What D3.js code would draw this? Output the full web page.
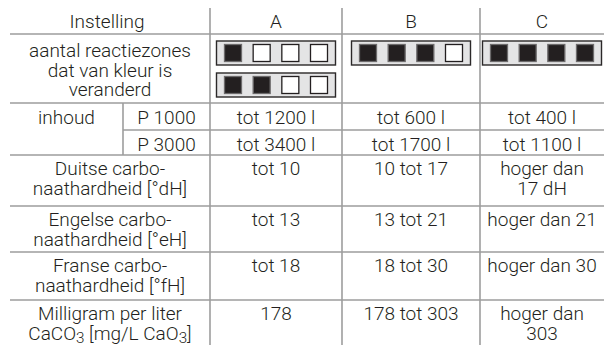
<!DOCTYPE html>
<html>
<head>
<meta charset="utf-8">
<script src="https://cdn.jsdelivr.net/npm/d3@7"></script>
<style>
  html, body { margin: 0; padding: 0; background: #fff; }
  svg { display: block; }
  text { font-family: Roboto, "Liberation Sans", sans-serif; font-weight: 300; fill: #231f20; }
</style>
</head>
<body>
<svg id="chart" width="604" height="345"></svg>
<script>
// ---- data ----
const headerLabel = "Instelling";
const columns = ["A", "B", "C"];
const zoneLabel = ["aantal reactiezones", "dat van kleur is", "veranderd"];
const zoneTotal = 4;
const zonesChanged = [[1, 2], [3], [4]];          // per column: strips with n zones coloured
const volumeLabel = "inhoud";
const volumeModels = ["P 1000", "P 3000"];
const volumeValues = [
  ["tot 1200 l", "tot 600 l", "tot 400 l"],
  ["tot 3400 l", "tot 1700 l", "tot 1100 l"]
];
const hardnessLabels = [
  ["Duitse carbo-", "naathardheid [°dH]"],
  ["Engelse carbo-", "naathardheid [°eH]"],
  ["Franse carbo-", "naathardheid [°fH]"],
  ["Milligram per liter", "CaCO_3 [mg/L CaO_3]"]
];
const hardnessValues = [
  [["tot 10"], ["10 tot 17"], ["hoger dan", "17 dH"]],
  [["tot 13"], ["13 tot 21"], ["hoger dan 21"]],
  [["tot 18"], ["18 tot 30"], ["hoger dan 30"]],
  [["178"], ["178 tot 303"], ["hoger dan", "303"]]
];

// ---- layout ----
const W = 604, H = 345;
const fs = 19;
const lineColor = "#9d9d9d", lineW = 1.6;
const labelLeft = 10, labelSplit = 123;
const colLeft = d3.scaleOrdinal().domain(columns).range([210, 342, 480]);
const colRight = d3.scaleOrdinal().domain(columns).range([342, 480, 604]);
const colMid = c => (colLeft(c) + colRight(c)) / 2;
const labelMid = (labelLeft + 210) / 2;

const rowTops = { header: 8, zones: 34, vol: [103, 130], hard: [155, 206, 252, 300], end: 345 };

const svg = d3.select("#chart");

// text helper with subscript support ("_3")
function addLines(g, lines, x, yTop, base, lh) {
  const t = g.append("text").attr("x", x).attr("text-anchor", "middle").attr("font-size", fs);
  lines.forEach((ln, i) => {
    const y = yTop + base + i * lh;
    const parts = ln.split(/(_\d)/);
    let first = true, prevSub = false;
    parts.forEach(p => {
      if (!p) return;
      const ts = t.append("tspan");
      if (first) { ts.attr("x", x).attr("y", y); first = false; }
      if (p.startsWith("_")) {
        ts.text(p.slice(1)).attr("font-size", fs * 0.8).attr("dy", 3);
        prevSub = true;
      } else {
        if (prevSub) ts.attr("dy", -3);
        prevSub = false;
        ts.text(p);
      }
    });
  });
}

// ---- grid lines ----
const hLines = [
  { y: rowTops.zones, x1: labelLeft },
  { y: rowTops.vol[0], x1: labelLeft },
  { y: rowTops.vol[1], x1: labelSplit },
  ...rowTops.hard.map(y => ({ y, x1: labelLeft }))
];
svg.append("g").selectAll("line").data(hLines).join("line")
  .attr("x1", d => d.x1).attr("x2", W).attr("y1", d => d.y).attr("y2", d => d.y)
  .attr("stroke", lineColor).attr("stroke-width", lineW);

const vLines = [
  ...columns.map(c => ({ x: colLeft(c), y1: rowTops.header, y2: H })),
  { x: labelSplit, y1: rowTops.vol[0], y2: rowTops.hard[0] }
];
svg.append("g").selectAll("line").data(vLines).join("line")
  .attr("x1", d => d.x).attr("x2", d => d.x).attr("y1", d => d.y1).attr("y2", d => d.y2)
  .attr("stroke", lineColor).attr("stroke-width", lineW);

const g = svg.append("g");

// ---- header ----
addLines(g, [headerLabel], labelMid - 3, 0, 28, 0);
columns.forEach(c => addLines(g, [c], colMid(c), 0, 28, 0));

// ---- zones row ----
addLines(g, zoneLabel, labelMid, rowTops.zones, 23, 19.5);
const stripW = 119, stripH = 24, sq = 17, pad = 8;
const sqX = d3.scalePoint().domain(d3.range(zoneTotal)).range([pad, stripW - pad - sq]);
columns.forEach((c, ci) => {
  zonesChanged[ci].forEach((n, si) => {
    const sx = colMid(c) - stripW / 2;
    const sy = rowTops.zones + 7 + si * 32;
    const strip = g.append("g").attr("transform", `translate(${sx},${sy})`);
    strip.append("rect").attr("x", 0).attr("y", 0).attr("width", stripW).attr("height", stripH)
      .attr("fill", "#e4e4e5").attr("stroke", "#2b2829").attr("stroke-width", 1.4);
    strip.selectAll("rect.sq").data(d3.range(zoneTotal)).join("rect").attr("class", "sq")
      .attr("x", i => sqX(i)).attr("y", (stripH - sq) / 2)
      .attr("width", sq).attr("height", sq)
      .attr("fill", i => i < n ? "#231f20" : "#ffffff")
      .attr("stroke", i => i < n ? "#6d6b6c" : "#231f20")
      .attr("stroke-width", 1.3);
  });
});

// ---- volume rows ----
addLines(g, [volumeLabel], (labelLeft + labelSplit) / 2, rowTops.vol[0], 21, 0);
volumeModels.forEach((m, ri) => {
  addLines(g, [m], (labelSplit + 210) / 2, rowTops.vol[ri], 21, 0);
  columns.forEach((c, ci) => addLines(g, [volumeValues[ri][ci]], colMid(c), rowTops.vol[ri], 21, 0));
});

// ---- hardness rows ----
hardnessLabels.forEach((lab, ri) => {
  addLines(g, lab, labelMid, rowTops.hard[ri], 20, 19.5);
  columns.forEach((c, ci) => addLines(g, hardnessValues[ri][ci], colMid(c), rowTops.hard[ri], 20, 19.5));
});
</script>
</body>
</html>
